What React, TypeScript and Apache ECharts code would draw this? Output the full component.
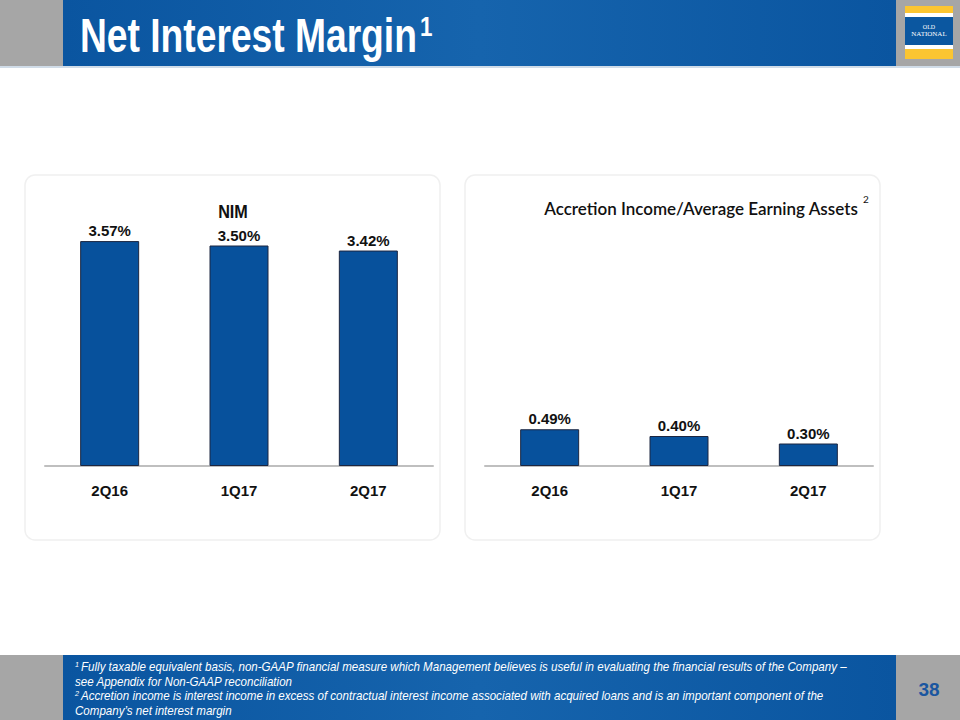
import React, { useEffect, useRef } from "react";
import * as echarts from "echarts";

const categories = ["2Q16", "1Q17", "2Q17"];
const nimValues = [3.57, 3.5, 3.42];
const accretionValues = [0.49, 0.4, 0.3];
const nimTitle = "NIM";
const accretionTitle = "Accretion Income/Average Earning Assets";
const slideTitle = "Net Interest Margin";
const pageNumber = "38";
const footnotes = [
  "Fully taxable equivalent basis, non-GAAP financial measure which Management believes is useful in evaluating the financial results of the Company –",
  "see Appendix for Non-GAAP reconciliation",
  "Accretion income is interest income in excess of contractual interest income associated with acquired loans and is an important component of the",
  "Company’s net interest margin",
];

const SANS = "Arial, 'Liberation Sans', sans-serif";
const BAR = "#07519C";

export default function App() {
  const ref = useRef<HTMLDivElement>(null);
  useEffect(() => {
    if (!ref.current) return;
    const chart = echarts.init(ref.current, undefined, { renderer: "svg" });
    const labelStyle = {
      show: true,
      position: "top" as const,
      distance: 3,
      fontFamily: SANS,
      fontWeight: "bold" as const,
      fontSize: 15,
      color: "#111",
      formatter: (p: any) => p.value.toFixed(2) + "%",
    };
    const catAxis = (gi: number) => ({
      type: "category" as const,
      gridIndex: gi,
      data: categories,
      axisLine: { lineStyle: { color: "#BFBFBF", width: 2 } },
      axisTick: { show: false },
      axisLabel: {
        fontFamily: SANS,
        fontWeight: "bold" as const,
        fontSize: 15,
        color: "#111",
        margin: 17,
      },
    });
    const valAxis = (gi: number, max: number) => ({
      type: "value" as const,
      gridIndex: gi,
      min: 0,
      max,
      show: false,
      splitLine: { show: false },
    });
    const blueGrad = () =>
      new echarts.graphic.LinearGradient(0, 0, 1, 0, [
        { offset: 0, color: "#0A55A0" },
        { offset: 0.5, color: "#1664AD" },
        { offset: 1, color: "#0A55A0" },
      ]);
    chart.setOption({
      animation: false,
      backgroundColor: "#fff",
      grid: [
        { left: 45, width: 388, top: 214, height: 252 },
        { left: 485, width: 388, top: 391, height: 75 },
      ],
      xAxis: [catAxis(0), catAxis(1)],
      yAxis: [valAxis(0, 4), valAxis(1, 1)],
      series: [
        {
          type: "bar",
          xAxisIndex: 0,
          yAxisIndex: 0,
          data: nimValues,
          barWidth: 59,
          itemStyle: { color: BAR, borderColor: "#1C2640", borderWidth: 1 },
          label: labelStyle,
        },
        {
          type: "bar",
          xAxisIndex: 1,
          yAxisIndex: 1,
          data: accretionValues,
          barWidth: 59,
          itemStyle: { color: BAR, borderColor: "#1C2640", borderWidth: 1 },
          label: labelStyle,
        },
      ],
      graphic: [
        // panels
        { type: "rect", z: -10, shape: { x: 25, y: 175, width: 415, height: 365, r: 10 }, style: { fill: "#fff", stroke: "#F0F0F0", lineWidth: 1.5 } },
        { type: "rect", z: -10, shape: { x: 465, y: 175, width: 415, height: 365, r: 10 }, style: { fill: "#fff", stroke: "#F0F0F0", lineWidth: 1.5 } },
        // header
        { type: "rect", shape: { x: 0, y: 0, width: 960, height: 66 }, style: { fill: "#A6A6A6" } },
        { type: "rect", shape: { x: 63, y: 0, width: 833, height: 66 }, style: { fill: blueGrad() } },
        { type: "rect", shape: { x: 0, y: 66, width: 960, height: 2 }, style: { fill: "#D0DCE8" } },
        {
          type: "text",
          x: 80,
          y: 59,
          scaleX: 0.775,
          style: { text: slideTitle, fontFamily: SANS, fontWeight: "bold", fontSize: 48, fill: "#fff", verticalAlign: "bottom" },
        },
        {
          type: "text",
          x: 420,
          y: 12,
          scaleX: 0.8,
          style: { text: "1", fontFamily: SANS, fontWeight: "bold", fontSize: 28, fill: "#fff", verticalAlign: "top" },
        },
        // logo
        { type: "rect", shape: { x: 905, y: 6, width: 48, height: 53 }, style: { fill: "#FBC531" } },
        { type: "rect", shape: { x: 905, y: 13, width: 48, height: 4 }, style: { fill: "#fff" } },
        { type: "rect", shape: { x: 905, y: 17, width: 48, height: 28 }, style: { fill: "#0B57A0" } },
        { type: "rect", shape: { x: 905, y: 45, width: 48, height: 4 }, style: { fill: "#fff" } },
        { type: "text", x: 929, y: 27, style: { text: "OLD", fontFamily: "'Liberation Serif', serif", fontSize: 6, fill: "#fff", align: "center", verticalAlign: "middle" } },
        { type: "text", x: 929, y: 34, style: { text: "NATIONAL", fontFamily: "'Liberation Serif', serif", fontSize: 7, fill: "#fff", align: "center", verticalAlign: "middle" } },
        // chart titles
        { type: "text", x: 233, y: 212, scaleX: 0.9, originX: 0, style: { text: nimTitle, fontFamily: SANS, fontWeight: "bold", fontSize: 18, fill: "#111", align: "center", verticalAlign: "middle" } },
        { type: "text", x: 701, y: 208, style: { text: accretionTitle, fontFamily: "Lato, 'Open Sans', sans-serif", fontWeight: 600, fontSize: 17, fill: "#111", align: "center", verticalAlign: "middle" } },
        { type: "text", x: 866, y: 199, style: { text: "2", fontFamily: "Lato, sans-serif", fontSize: 10, fill: "#111", align: "center", verticalAlign: "middle" } },
        // footer
        { type: "rect", shape: { x: 0, y: 655, width: 960, height: 65 }, style: { fill: "#A6A6A6" } },
        { type: "rect", shape: { x: 63, y: 655, width: 833, height: 65 }, style: { fill: blueGrad() } },
        { type: "text", x: 75, y: 660, scaleX: 0.9, style: { text: "1", fontFamily: SANS, fontStyle: "italic", fontSize: 8, fill: "#fff" } },
        { type: "text", x: 75, y: 689, scaleX: 0.9, style: { text: "2", fontFamily: SANS, fontStyle: "italic", fontSize: 8, fill: "#fff" } },
        ...footnotes.map((t, i) => ({
          type: "text",
          x: i === 0 || i === 2 ? 81 : 75,
          y: 667 + i * 14.5,
          scaleX: 0.89,
          style: { text: t, fontFamily: SANS, fontStyle: "italic", fontSize: 13, fill: "#fff", verticalAlign: "middle" },
        })),
        { type: "text", x: 929, y: 689, style: { text: pageNumber, fontFamily: SANS, fontWeight: "bold", fontSize: 19, fill: "#1A56A0", align: "center", verticalAlign: "middle" } },
      ],
    });
    return () => chart.dispose();
  }, []);
  return <div ref={ref} style={{ position: "absolute", left: 0, top: 0, width: 960, height: 720 }} />;
}
